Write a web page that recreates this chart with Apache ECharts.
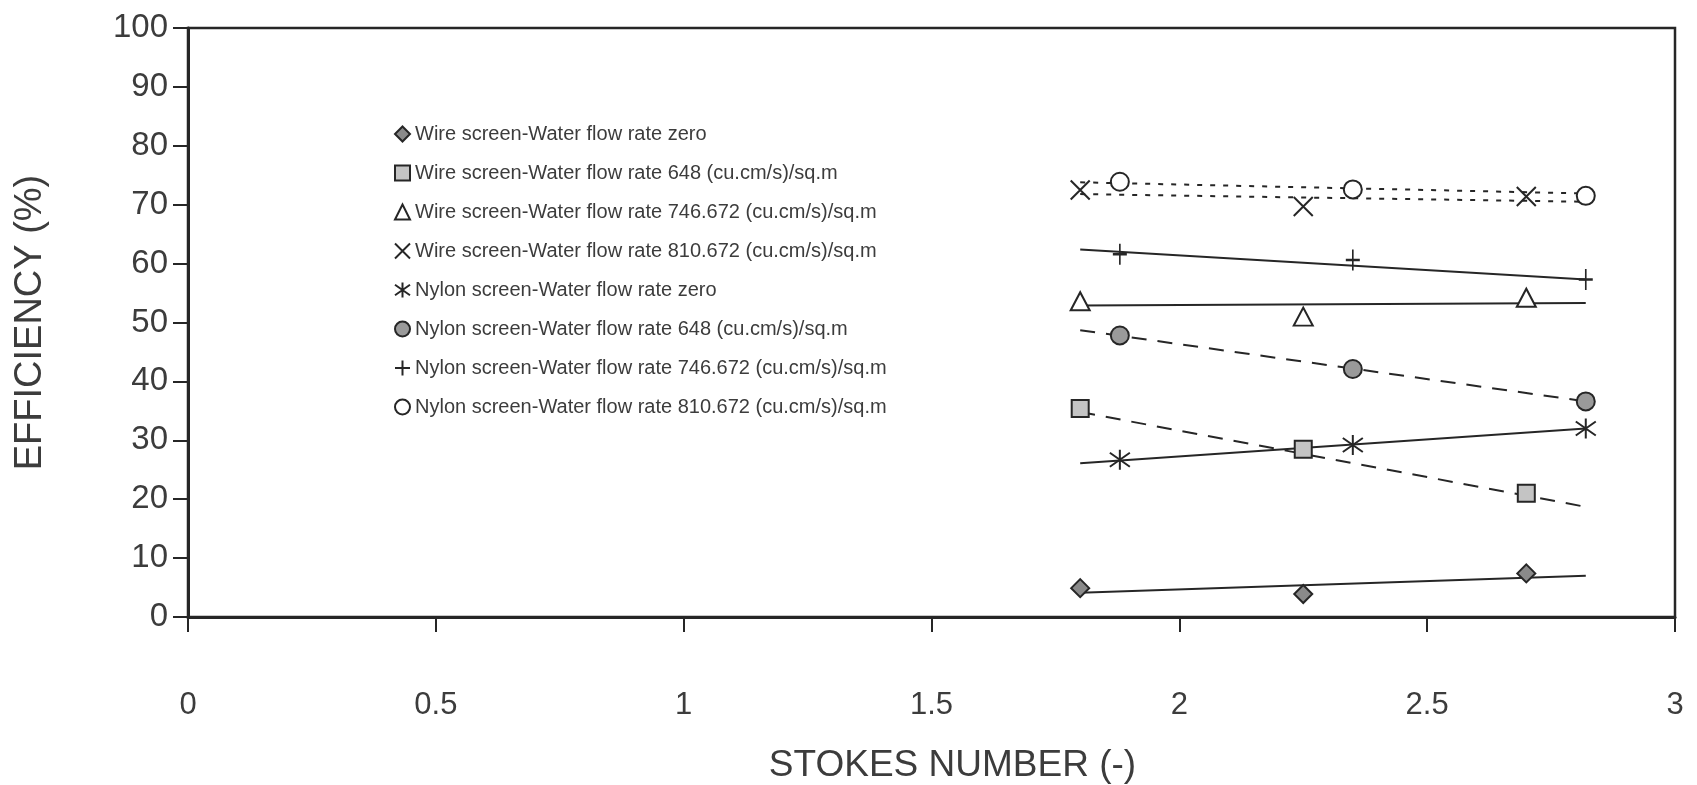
<!DOCTYPE html>
<html>
<head>
<meta charset="utf-8">
<script src="https://cdn.jsdelivr.net/npm/echarts@6/dist/echarts.min.js"></script>
<style>
  html, body { margin: 0; padding: 0; background: #fff; }
  #chart { width: 1697px; height: 785px; }
</style>
</head>
<body>
<div id="chart"></div>
<script>
// Stokes numbers at which each screen type was tested
const wireStokes = [1.8, 2.25, 2.7];
const nylonStokes = [1.88, 2.35, 2.82];
// Trend lines span the whole tested Stokes range
const trendStokes = [1.8, 2.82];

// Collection efficiency (%) measured at each Stokes number
const wireZero = [4.9, 3.9, 7.4];
const wire648 = [35.4, 28.5, 21.0];
const wire746 = [53.6, 51.0, 54.2];
const wire810 = [72.5, 69.7, 71.4];
const nylonZero = [26.7, 29.2, 32.0];
const nylon648 = [47.8, 42.1, 36.6];
const nylon746 = [61.6, 60.6, 57.3];
const nylon810 = [73.9, 72.6, 71.5];

// Trend line end values (%) at the first and last Stokes number
const wireZeroTrend = [4.1, 7.0];
const wire648Trend = [34.8, 18.7];
const wire746Trend = [52.9, 53.3];
const wire810Trend = [71.8, 70.5];
const nylonZeroTrend = [26.1, 32.0];
const nylon648Trend = [48.7, 36.6];
const nylon746Trend = [62.4, 57.3];
const nylon810Trend = [73.8, 71.9];

const seriesNames = [
  'Wire screen-Water flow rate zero',
  'Wire screen-Water flow rate 648 (cu.cm/s)/sq.m',
  'Wire screen-Water flow rate 746.672 (cu.cm/s)/sq.m',
  'Wire screen-Water flow rate 810.672 (cu.cm/s)/sq.m',
  'Nylon screen-Water flow rate zero',
  'Nylon screen-Water flow rate 648 (cu.cm/s)/sq.m',
  'Nylon screen-Water flow rate 746.672 (cu.cm/s)/sq.m',
  'Nylon screen-Water flow rate 810.672 (cu.cm/s)/sq.m'
];

const xTicks = ['0', '0.5', '1', '1.5', '2', '2.5', '3'];

const INK = '#262626';
const TEXT = '#3c3c3c';
const FONT = '"Liberation Sans", Arial, Helvetica, sans-serif';

const groups = [
  { x: wireStokes, y: wireZero, trend: wireZeroTrend, symbol: 'diamond', size: 18, fill: '#8a8a8a', dash: 'solid' },
  { x: wireStokes, y: wire648, trend: wire648Trend, symbol: 'rect', size: 17, fill: '#c4c4c4', dash: [15, 11] },
  { x: wireStokes, y: wire746, trend: wire746Trend, symbol: 'triangle', size: [19, 18], fill: '#ffffff', dash: 'solid' },
  { x: wireStokes, y: wire810, trend: wire810Trend, symbol: 'path://M0,0L10,10M10,0L0,10', size: 19, fill: 'none', dash: [5, 8] },
  { x: nylonStokes, y: nylonZero, trend: nylonZeroTrend, symbol: 'path://M5,0L5,10M0,1.5L10,8.5M10,1.5L0,8.5', size: 20, fill: 'none', dash: 'solid' },
  { x: nylonStokes, y: nylon648, trend: nylon648Trend, symbol: 'circle', size: 18, fill: '#9a9a9a', dash: [15, 11] },
  { x: nylonStokes, y: nylon746, trend: nylon746Trend, symbol: 'path://M5,0L5,10M0,5L10,5', size: [14, 21], fill: 'none', dash: 'solid' },
  { x: nylonStokes, y: nylon810, trend: nylon810Trend, symbol: 'circle', size: 18, fill: '#ffffff', dash: [5, 8] }
];

const series = [];
groups.forEach(function (g, i) {
  series.push({
    name: seriesNames[i] + ' trend',
    type: 'line',
    data: trendStokes.map(function (s, k) { return [s, g.trend[k]]; }),
    showSymbol: false,
    silent: true,
    z: 2,
    lineStyle: { color: INK, width: 2, type: g.dash },
    itemStyle: { color: INK }
  });
});
groups.forEach(function (g, i) {
  series.push({
    name: seriesNames[i],
    type: 'scatter',
    data: g.x.map(function (s, k) { return [s, g.y[k]]; }),
    symbol: g.symbol,
    symbolSize: g.size,
    z: 5,
    itemStyle: {
      color: g.fill === 'none' ? 'rgba(0,0,0,0)' : g.fill,
      borderColor: INK,
      borderWidth: 2,
      opacity: 1
    }
  });
});

const chart = echarts.init(document.getElementById('chart'), null, { renderer: 'canvas' });
chart.setOption({
  animation: false,
  backgroundColor: '#ffffff',
  textStyle: { fontFamily: FONT },
  grid: {
    left: 188, right: 22, top: 28, bottom: 168,
    outerBoundsMode: 'none',
    containLabel: false,
    show: true, borderColor: INK, borderWidth: 2.5, backgroundColor: 'transparent'
  },
  legend: {
    data: seriesNames,
    orient: 'vertical',
    left: 389,
    top: 119,
    itemWidth: 15,
    itemHeight: 15,
    itemGap: 19,
    textStyle: { fontFamily: FONT, fontSize: 20, color: TEXT },
    selectedMode: false
  },
  xAxis: {
    type: 'value',
    min: 0, max: 3, interval: 0.5,
    name: 'STOKES NUMBER (-)',
    nameLocation: 'middle',
    nameGap: 130,
    nameTextStyle: { fontFamily: FONT, fontSize: 37, color: TEXT, padding: [0, 0, 0, 42] },
    axisLine: { show: true, lineStyle: { color: INK, width: 3 } },
    axisTick: { show: true, inside: false, length: 15, lineStyle: { color: INK, width: 2 } },
    axisLabel: {
      margin: 73, fontFamily: FONT, fontSize: 31, color: TEXT,
      formatter: function (v) { return xTicks[Math.round(v / 0.5)]; }
    },
    splitLine: { show: false }
  },
  yAxis: {
    type: 'value',
    min: 0, max: 100, interval: 10,
    name: 'EFFICIENCY (%)',
    nameLocation: 'middle',
    nameGap: 138,
    nameTextStyle: { fontFamily: FONT, fontSize: 38, color: TEXT },
    axisLine: { show: true, lineStyle: { color: INK, width: 3 } },
    axisTick: { show: true, inside: false, length: 15, lineStyle: { color: INK, width: 2 } },
    axisLabel: { margin: 20, fontFamily: FONT, fontSize: 33, color: TEXT },
    splitLine: { show: false }
  },
  series: series
});
</script>
</body>
</html>
